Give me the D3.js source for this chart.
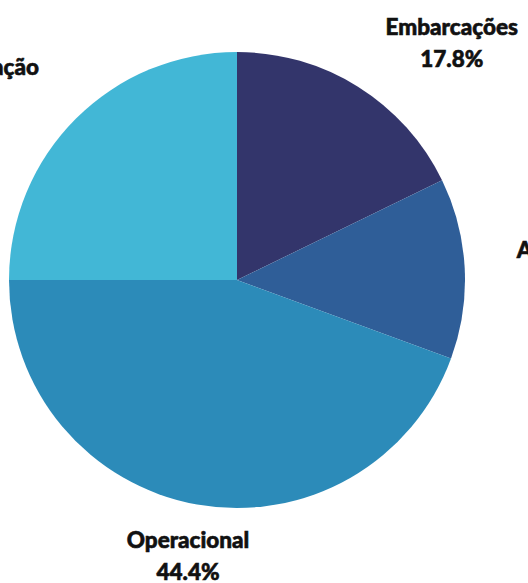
<!DOCTYPE html>
<html>
<head>
<meta charset="utf-8">
<script src="https://cdn.jsdelivr.net/npm/d3@7"></script>
<style>
  html, body { margin: 0; padding: 0; background: #ffffff; overflow: hidden; }
  svg { display: block; }
  text { font-family: "Lato", "Open Sans", sans-serif; font-weight: 900; fill: #111111; stroke: #111111; stroke-width: 0.6px; }
</style>
</head>
<body>
<svg id="chart" width="528" height="583"></svg>
<script>
const categories = ["Embarcações", "Abastecimento", "Operacional", "Administração"];
const values = [17.8, 12.8, 44.4, 25.0];
const percentLabels = ["17.8%", "12.8%", "44.4%", "25.0%"];
const colors = ["#33356b", "#2f5e98", "#2c8bb9", "#42b7d6"];

const W = 528, H = 583;
const cx = 237, cy = 280, radius = 228, labelRadius = 280;

const svg = d3.select("#chart");
const g = svg.append("g").attr("transform", `translate(${cx},${cy})`);

const data = categories.map((c, i) => ({ name: c, value: values[i], pct: percentLabels[i], color: colors[i] }));

const pie = d3.pie().sort(null).value(d => d.value);
const arc = d3.arc().innerRadius(0).outerRadius(radius);
const arcs = pie(data);

g.selectAll("path.slice")
  .data(arcs)
  .enter().append("path")
  .attr("class", "slice")
  .attr("d", arc)
  .attr("fill", d => d.data.color);

const fontSize = 22.5, lineGap = 32;

arcs.forEach(d => {
  const a = (d.startAngle + d.endAngle) / 2;
  const x = labelRadius * Math.sin(a);
  const y = -labelRadius * Math.cos(a);
  const lg = g.append("g");
  const t1 = lg.append("text").attr("font-size", fontSize).attr("text-anchor", "middle")
    .attr("dominant-baseline", "central").attr("y", y - lineGap / 2).text(d.data.name);
  const t2 = lg.append("text").attr("font-size", fontSize).attr("text-anchor", "middle")
    .attr("dominant-baseline", "central").attr("y", y + lineGap / 2).text(d.data.pct);
  const w = Math.max(t1.node().getComputedTextLength(), t2.node().getComputedTextLength());
  let centerX;
  if (Math.abs(x) < 80) centerX = x;
  else if (x > 0) centerX = x + w / 2;
  else centerX = x - w / 2;
  t1.attr("x", centerX);
  t2.attr("x", centerX);
});
</script>
</body>
</html>
